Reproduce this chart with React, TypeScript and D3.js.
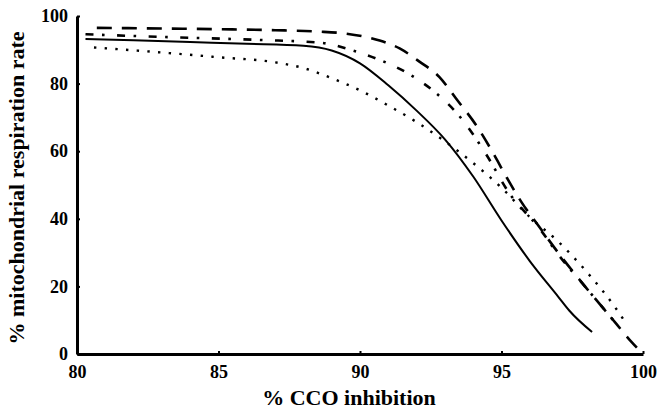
import React, { useEffect, useRef } from "react";
import * as d3 from "d3";

// curves: x = % CCO inhibition, y = % respiration rate
const solidX = [80.3, 82, 84, 86, 88, 89, 90, 91, 92, 93, 94, 95, 96, 97, 97.4, 98.2];
const solidY = [93.2, 92.8, 92.3, 91.8, 91.2, 89.8, 86.0, 79.5, 72.0, 63.5, 52.5, 39.5, 27.5, 17, 12.8, 6.5];

const longDashX = [80.7, 83, 85, 87, 88.5, 89.5, 90.4, 91.4, 92.1, 92.8, 93.4, 94.2, 94.7, 95.2, 95.7, 96.3, 97, 98, 99, 99.6, 100];
const longDashY = [96.5, 96.3, 96.1, 95.8, 95.4, 94.8, 93.4, 90.4, 86.5, 82.0, 75.5, 66.5, 59.5, 52, 45, 38, 30, 19.5, 9.5, 3.5, 0];

const dashDotX = [80.3, 83, 86.5, 88.6, 89.7, 90.7, 91.8, 92.7, 93.5, 94.5, 95.2, 96.4, 97, 98, 99.1];
const dashDotY = [94.6, 93.8, 92.9, 92.1, 89.9, 87.0, 82.5, 77.1, 70.5, 58.5, 48.5, 36.5, 29.5, 19.5, 8.5];

const dottedX = [80.6, 83, 85, 87, 88, 89, 90, 91, 92, 93, 94, 95, 96, 97, 98, 99, 99.4];
const dottedY = [90.7, 89.2, 87.8, 86.3, 84.6, 81.6, 78.0, 73.5, 68.6, 62.9, 56.5, 49.2, 40.5, 33.3, 24.4, 14, 9.1];

const xTicks = [80, 85, 90, 95, 100];
const yTicks = [0, 20, 40, 60, 80, 100];

const series = [
  { xs: solidX, ys: solidY, dash: null, width: 2 },
  { xs: longDashX, ys: longDashY, dash: "15,10", width: 2.6 },
  { xs: dashDotX, ys: dashDotY, dash: "8,8.5,2.6,12.5", width: 2.6 },
  { xs: dottedX, ys: dottedY, dash: "2.4,8.3", width: 2.4 },
];

export default function App() {
  const ref = useRef<SVGSVGElement>(null);

  useEffect(() => {
    const svg = d3.select(ref.current);
    svg.selectAll("*").remove();

    const x = d3.scaleLinear().domain([80, 100]).range([77, 643]);
    const y = d3.scaleLinear().domain([0, 100]).range([354, 16]);
    const font = "'Liberation Serif', 'Times New Roman', serif";

    // x axis
    const gx = svg.append("g")
      .attr("transform", `translate(0, ${y(0)})`)
      .call(d3.axisBottom(x).tickValues(xTicks).tickSizeInner(-3).tickSizeOuter(0).tickPadding(11));
    gx.select(".domain").attr("stroke-width", 3);
    gx.selectAll(".tick line").attr("stroke-width", 2);
    gx.selectAll(".tick text")
      .attr("font-family", font).attr("font-weight", "bold").attr("font-size", 18).attr("fill", "#000");

    // y axis
    const gy = svg.append("g")
      .attr("transform", `translate(${x(80)}, 0)`)
      .call(d3.axisLeft(y).tickValues(yTicks).tickSizeInner(-3).tickSizeOuter(0).tickPadding(9));
    gy.select(".domain").attr("stroke-width", 3);
    gy.selectAll(".tick line").attr("stroke-width", 2);
    gy.selectAll(".tick text")
      .attr("font-family", font).attr("font-weight", "bold").attr("font-size", 18).attr("fill", "#000");

    // curves
    series.forEach(s => {
      const pts = s.xs.map((v, i) => [v, s.ys[i]] as [number, number]);
      const line = d3.line<[number, number]>()
        .x(d => x(d[0]))
        .y(d => y(d[1]))
        .curve(d3.curveMonotoneX);
      svg.append("path")
        .attr("d", line(pts))
        .attr("fill", "none")
        .attr("stroke", "#000")
        .attr("stroke-width", s.width)
        .attr("stroke-dasharray", s.dash);
    });

    // titles
    svg.append("text")
      .attr("x", 349).attr("y", 405)
      .attr("text-anchor", "middle")
      .attr("font-family", font).attr("font-weight", "bold").attr("font-size", 22)
      .text("% CCO inhibition");

    svg.append("text")
      .attr("transform", `translate(24, 188) rotate(-90)`)
      .attr("text-anchor", "middle")
      .attr("font-family", font).attr("font-weight", "bold").attr("font-size", 22)
      .text("% mitochondrial respiration rate");
  }, []);

  return (
    <div style={{ position: "fixed", left: 0, top: 0 }}>
      <svg ref={ref} width={658} height={411} style={{ display: "block", background: "#fff" }} />
    </div>
  );
}
